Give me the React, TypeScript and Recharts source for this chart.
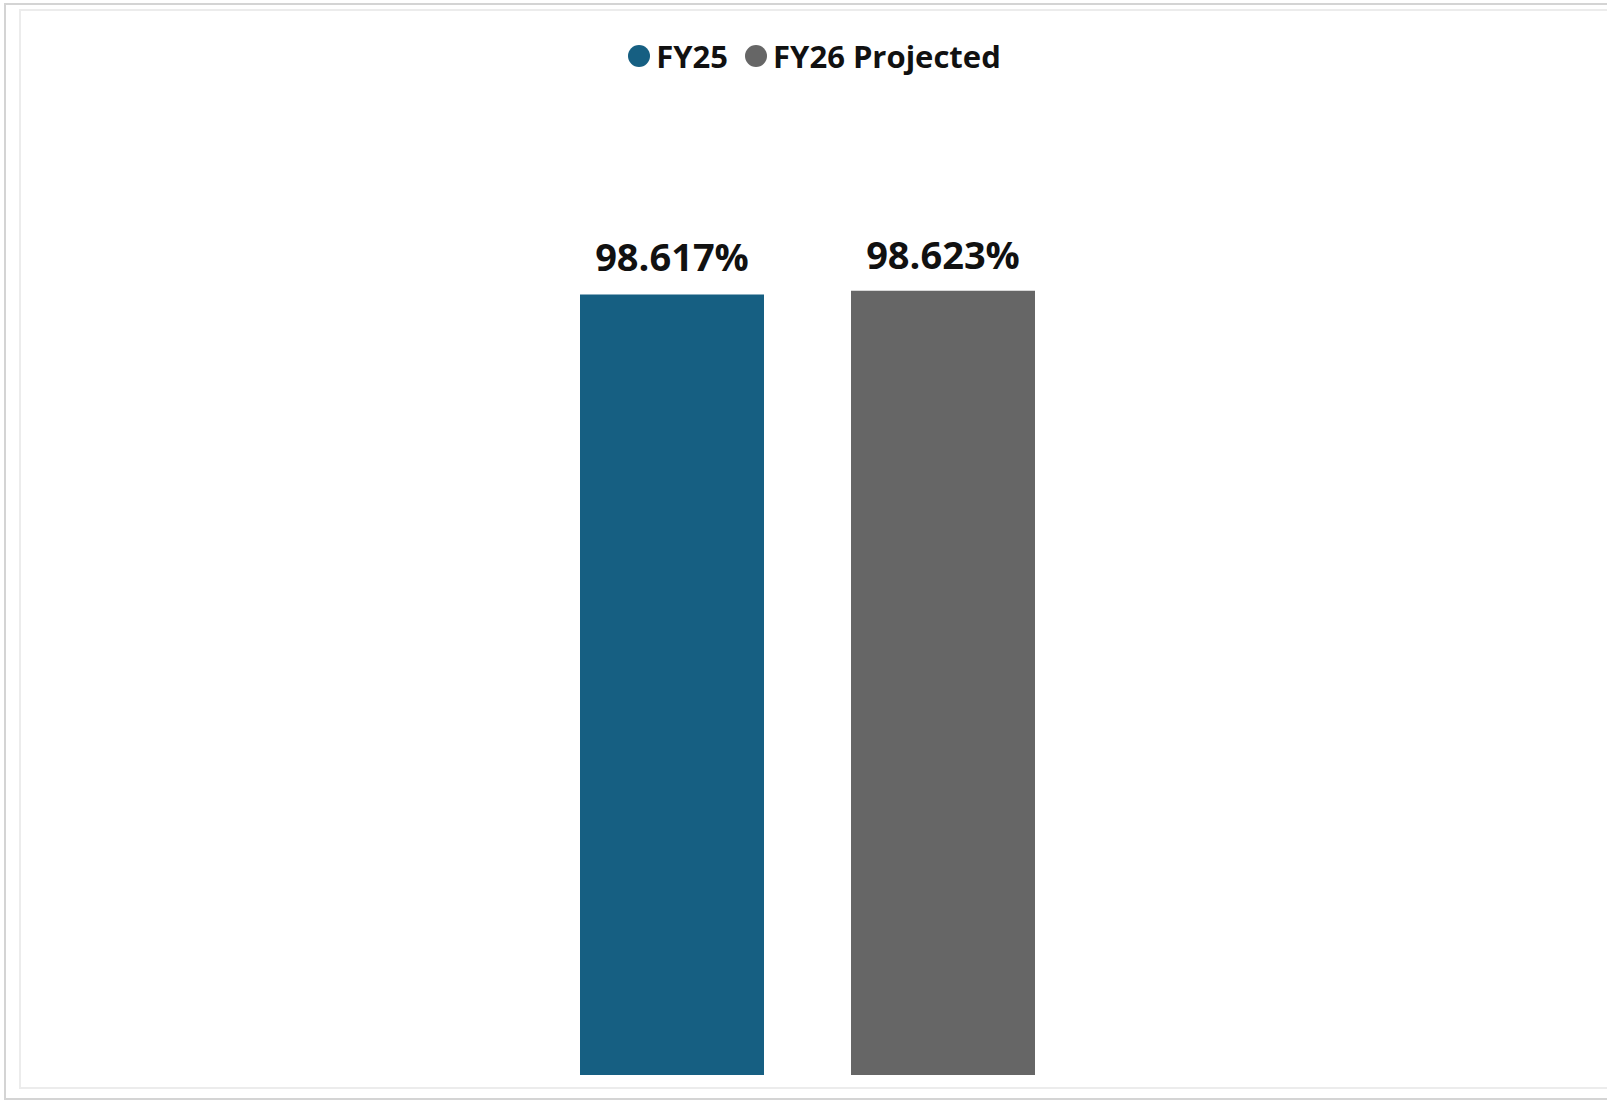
import { BarChart, Bar, XAxis, YAxis, Legend, LabelList } from "recharts";

// Single category, two series (FY25 actual vs FY26 projected)
const categories = ["Rate"];
const fy25Values = [98.617];
const fy26Values = [98.623];
const seriesNames = ["FY25", "FY26 Projected"];
const seriesColors = ["#165f82", "#666666"];

const data = categories.map((name, i) => ({
  name,
  fy25: fy25Values[i],
  fy26: fy26Values[i],
}));

const FONT = "'Open Sans', 'Noto Sans', sans-serif";

function LegendContent() {
  return (
    <div
      style={{
        display: "flex",
        justifyContent: "center",
        alignItems: "center",
        gap: 17,
        paddingLeft: 14,
        fontFamily: FONT,
        fontWeight: 700,
        fontSize: 31,
        lineHeight: "40px",
        height: 40,
        color: "#111",
      }}
    >
      {seriesNames.map((n, i) => (
        <div key={n} style={{ display: "flex", alignItems: "center", gap: 6 }}>
          <span
            style={{
              display: "inline-block",
              width: 22,
              height: 22,
              borderRadius: "50%",
              background: seriesColors[i],
            }}
          />
          <span>{n}</span>
        </div>
      ))}
    </div>
  );
}

const fmt = (v: any) => `${Number(v).toFixed(3)}%`;

export default function App() {
  return (
    <div
      style={{
        position: "absolute",
        left: 0,
        top: 0,
        width: 1607,
        height: 1100,
        background: "#fff",
        overflow: "hidden",
      }}
    >
      {/* outer frame */}
      <div
        style={{
          position: "absolute",
          left: 4,
          top: 3,
          width: 1620,
          height: 1093,
          border: "2px solid #d4d4d4",
        }}
      />
      {/* inner frame */}
      <div
        style={{
          position: "absolute",
          left: 19,
          top: 9,
          width: 1610,
          height: 1076,
          border: "2px solid #ececec",
        }}
      />
      <div style={{ position: "absolute", left: 20, top: 0 }}>
        <BarChart
          width={1575}
          height={1100}
          data={data}
          margin={{ top: 60, right: 0, bottom: 25, left: 0 }}
          barSize={184}
          barGap={87}
        >
          <XAxis dataKey="name" hide />
          <YAxis hide domain={[97.32, 98.94]} allowDataOverflow />
          <Legend
            verticalAlign="top"
            content={<LegendContent />}
            wrapperStyle={{ top: 36, left: 0, width: 1575, height: 40 }}
          />
          <Bar dataKey="fy25" name={seriesNames[0]} fill={seriesColors[0]} isAnimationActive={false}>
            <LabelList
              dataKey="fy25"
              position="top"
              offset={23}
              formatter={fmt}
              style={{ fontFamily: FONT, fontWeight: 700, fontSize: 38, fill: "#111" }}
            />
          </Bar>
          <Bar dataKey="fy26" name={seriesNames[1]} fill={seriesColors[1]} isAnimationActive={false}>
            <LabelList
              dataKey="fy26"
              position="top"
              offset={22}
              formatter={fmt}
              style={{ fontFamily: FONT, fontWeight: 700, fontSize: 38, fill: "#111" }}
            />
          </Bar>
        </BarChart>
      </div>
    </div>
  );
}
